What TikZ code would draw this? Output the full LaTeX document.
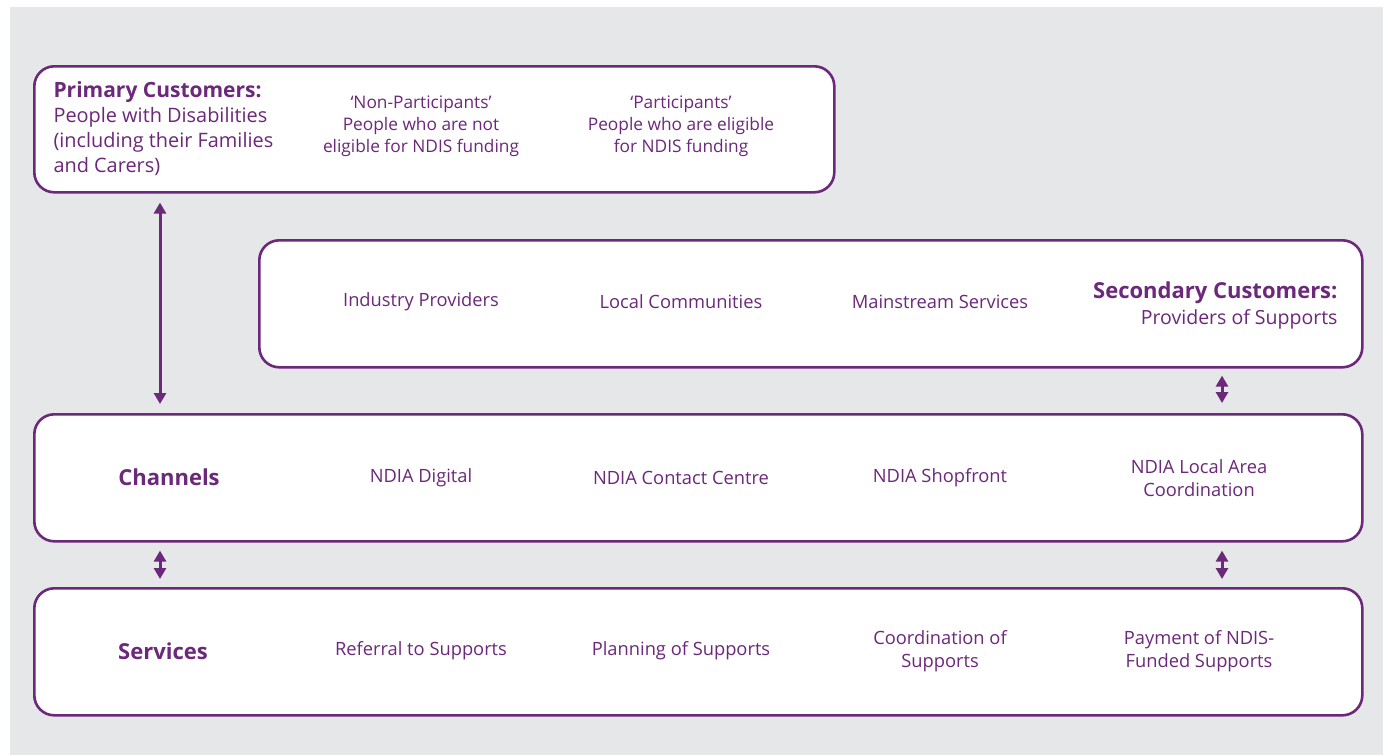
\documentclass[tikz,border=0pt]{standalone}
\usepackage{fontspec}
\setmainfont{Open Sans}
\usepackage{xcolor}
\usetikzlibrary{arrows.meta}
\definecolor{ndiapurple}{RGB}{108,40,122}
\definecolor{panelgray}{RGB}{230,231,233}

\begin{document}
\begin{tikzpicture}[
  x=1pt, y=-1pt,
  band/.style={draw=ndiapurple, line width=2.6pt, rounded corners=20pt, fill=white, anchor=north west, inner sep=0pt},
  item/.style={text=ndiapurple, align=center, font=\fontsize{18.3}{23}\selectfont},
  small/.style={text=ndiapurple, align=center, font=\fontsize{17.3}{22}\selectfont},
  head/.style={text=ndiapurple, font=\fontsize{22}{25}\selectfont\bfseries},
  twoway/.style={{Triangle[width=12pt,length=11pt]}-{Triangle[width=12pt,length=11pt]}, line width=3pt, draw=ndiapurple}
]
\useasboundingbox (0,0) rectangle (1388,755);
\fill[panelgray] (10,7) rectangle (1383,755);

% the four bands
\node[band, minimum width=800pt, minimum height=126pt] (prim) at (33,65) {};
\node[band, minimum width=1103pt, minimum height=127pt] (sec) at (258,239) {};
\node[band, minimum width=1328pt, minimum height=127pt] (chan) at (33,413) {};
\node[band, minimum width=1328pt, minimum height=127pt] (serv) at (33,587) {};

% primary customers
\node[text=ndiapurple, align=left, anchor=west, font=\fontsize{19.9}{25}\selectfont] (primtxt) at (50,129)
  {{\fontsize{21}{25}\selectfont\bfseries Primary Customers:}\\People with Disabilities\\(including their Families\\and Carers)};
\node[small] (nonpart) at (421,126) {`Non-Participants'\\People who are not\\eligible for NDIS funding};
\node[small] (part) at (681,126) {`Participants'\\People who are eligible\\for NDIS funding};

% secondary customers
\node[item] (indprov) at (421,302) {Industry Providers};
\node[item] (localcom) at (681,302) {Local Communities};
\node[item] (mainserv) at (940,302) {Mainstream Services};
\node[text=ndiapurple, align=right, anchor=east, font=\fontsize{19.5}{26}\selectfont] (sectxt) at (1341,305)
  {{\fontsize{22}{26}\selectfont\bfseries Secondary Customers:}\\Providers of Supports};

% channels
\node[head] (chanhead) at (169,477) {Channels};
\node[item] (digital) at (421,478) {NDIA Digital};
\node[item] (contact) at (681,478) {NDIA Contact Centre};
\node[item] (shopfront) at (940,478) {NDIA Shopfront};
\node[item] (lac) at (1199,478) {NDIA Local Area\\Coordination};

% services
\node[head] (servhead) at (163,651) {Services};
\node[item] (referral) at (421,651) {Referral to Supports};
\node[item] (planning) at (681,651) {Planning of Supports};
\node[item] (coord) at (940,651) {Coordination of\\Supports};
\node[item] (payment) at (1199,651) {Payment of NDIS-\\Funded Supports};

% connectors
\coordinate (leftx) at (160,0);
\coordinate (rightx) at (1222,0);
\draw[twoway, shorten <=9pt, shorten >=9pt] (prim.south -| leftx) -- (chan.north -| leftx);
\draw[twoway, shorten <=7pt, shorten >=10pt] (sec.south -| rightx) -- (chan.north -| rightx);
\draw[twoway, shorten <=8pt, shorten >=8pt] (chan.south -| leftx) -- (serv.north -| leftx);
\draw[twoway, shorten <=8pt, shorten >=8pt] (chan.south -| rightx) -- (serv.north -| rightx);
\end{tikzpicture}
\end{document}
